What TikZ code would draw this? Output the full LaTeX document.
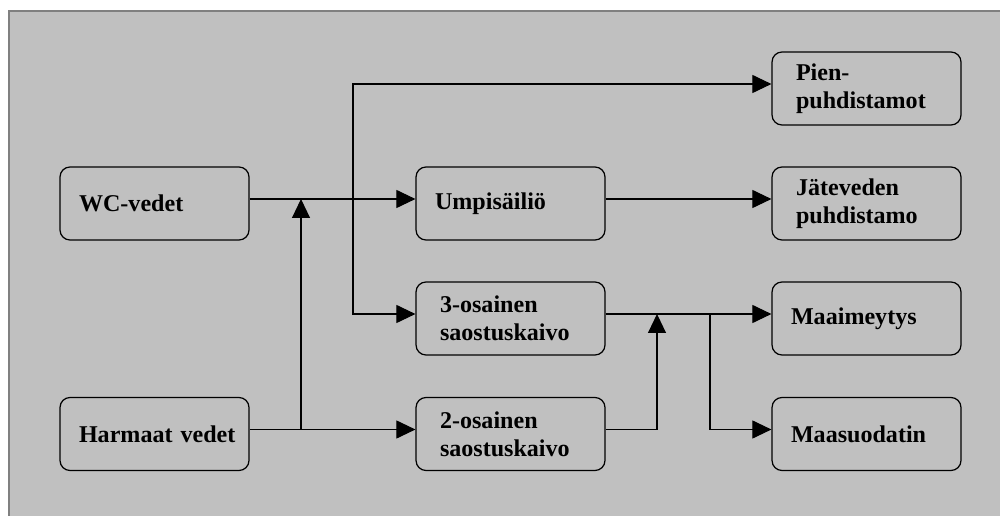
\documentclass[tikz,border=0pt]{standalone}
\usepackage{fontspec}
\setmainfont{Liberation Serif}
\usetikzlibrary{arrows.meta}
\definecolor{paneB}{HTML}{C0C0C0}
\definecolor{frameB}{HTML}{808080}

\tikzset{
  box/.style={draw, rounded corners=2mm, line width=0.7pt, minimum width=3.78cm,
    minimum height=1.46cm, inner xsep=0.38cm, text width=3.02cm, align=left,
    font=\fontsize{13.7}{16}\selectfont\bfseries},
  boxtwo/.style={box, inner xsep=0.48cm, text width=2.82cm},
  flow/.style={line width=0.6pt, -{Triangle[length=0.38cm, width=0.36cm]}}
}

\begin{document}
\begin{tikzpicture}[x=0.02cm, y=-0.02cm, line cap=butt]
\useasboundingbox (0,0) rectangle (1000,516);
% tausta
\draw[frameB, fill=paneB, line width=0.6pt] (9,11) rectangle (1010,530);
% laatikot
\node[box] (wc) at (154.5,203.5) {WC-vedet};
\node[box] (hv) at (154.5,434) {Harmaat~vedet};
\node[box] (ump) at (510.5,203.5) {Umpisäiliö};
\node[boxtwo] (three) at (510.5,318.5) {3-osainen\\saostuskaivo};
\node[boxtwo] (two) at (510.5,434) {2-osainen\\saostuskaivo};
\node[boxtwo] (pien) at (866.5,88.5) {Pien-\\puhdistamot};
\node[boxtwo] (jat) at (866.5,203.5) {Jäteveden\\puhdistamo};
\node[box] (maai) at (866.5,318.5) {Maaimeytys};
\node[box] (maas) at (866.5,434) {Maasuodatin};
% liitoskohdat
\coordinate (wcOut) at ([yshift=0.09cm]wc.east);
\coordinate (hvOut) at ([yshift=0.09cm]hv.east);
\coordinate (joinA) at (301,429);
\coordinate (joinB) at (301,199);
\coordinate (split) at (353,199);
\coordinate (threeOut) at ([yshift=0.09cm]three.east);
\coordinate (twoOut) at ([yshift=0.09cm]two.east);
\coordinate (joinC) at (657,314);
\coordinate (splitB) at (710,314);
% virtaukset
\draw[flow] (wcOut) -- ([yshift=0.09cm]ump.west);
\draw[flow] (hvOut) -- ([yshift=0.09cm]two.west);
\draw[flow] (joinA) -- (joinB);
\draw[flow] (split) |- ([yshift=0.09cm]pien.west);
\draw[flow] (split) |- ([yshift=0.09cm]three.west);
\draw[flow] ([yshift=0.09cm]ump.east) -- ([yshift=0.09cm]jat.west);
\draw[flow] (threeOut) -- ([yshift=0.09cm]maai.west);
\draw[flow] (twoOut) -| (joinC);
\draw[flow] (splitB) |- ([yshift=0.09cm]maas.west);
\end{tikzpicture}
\end{document}
